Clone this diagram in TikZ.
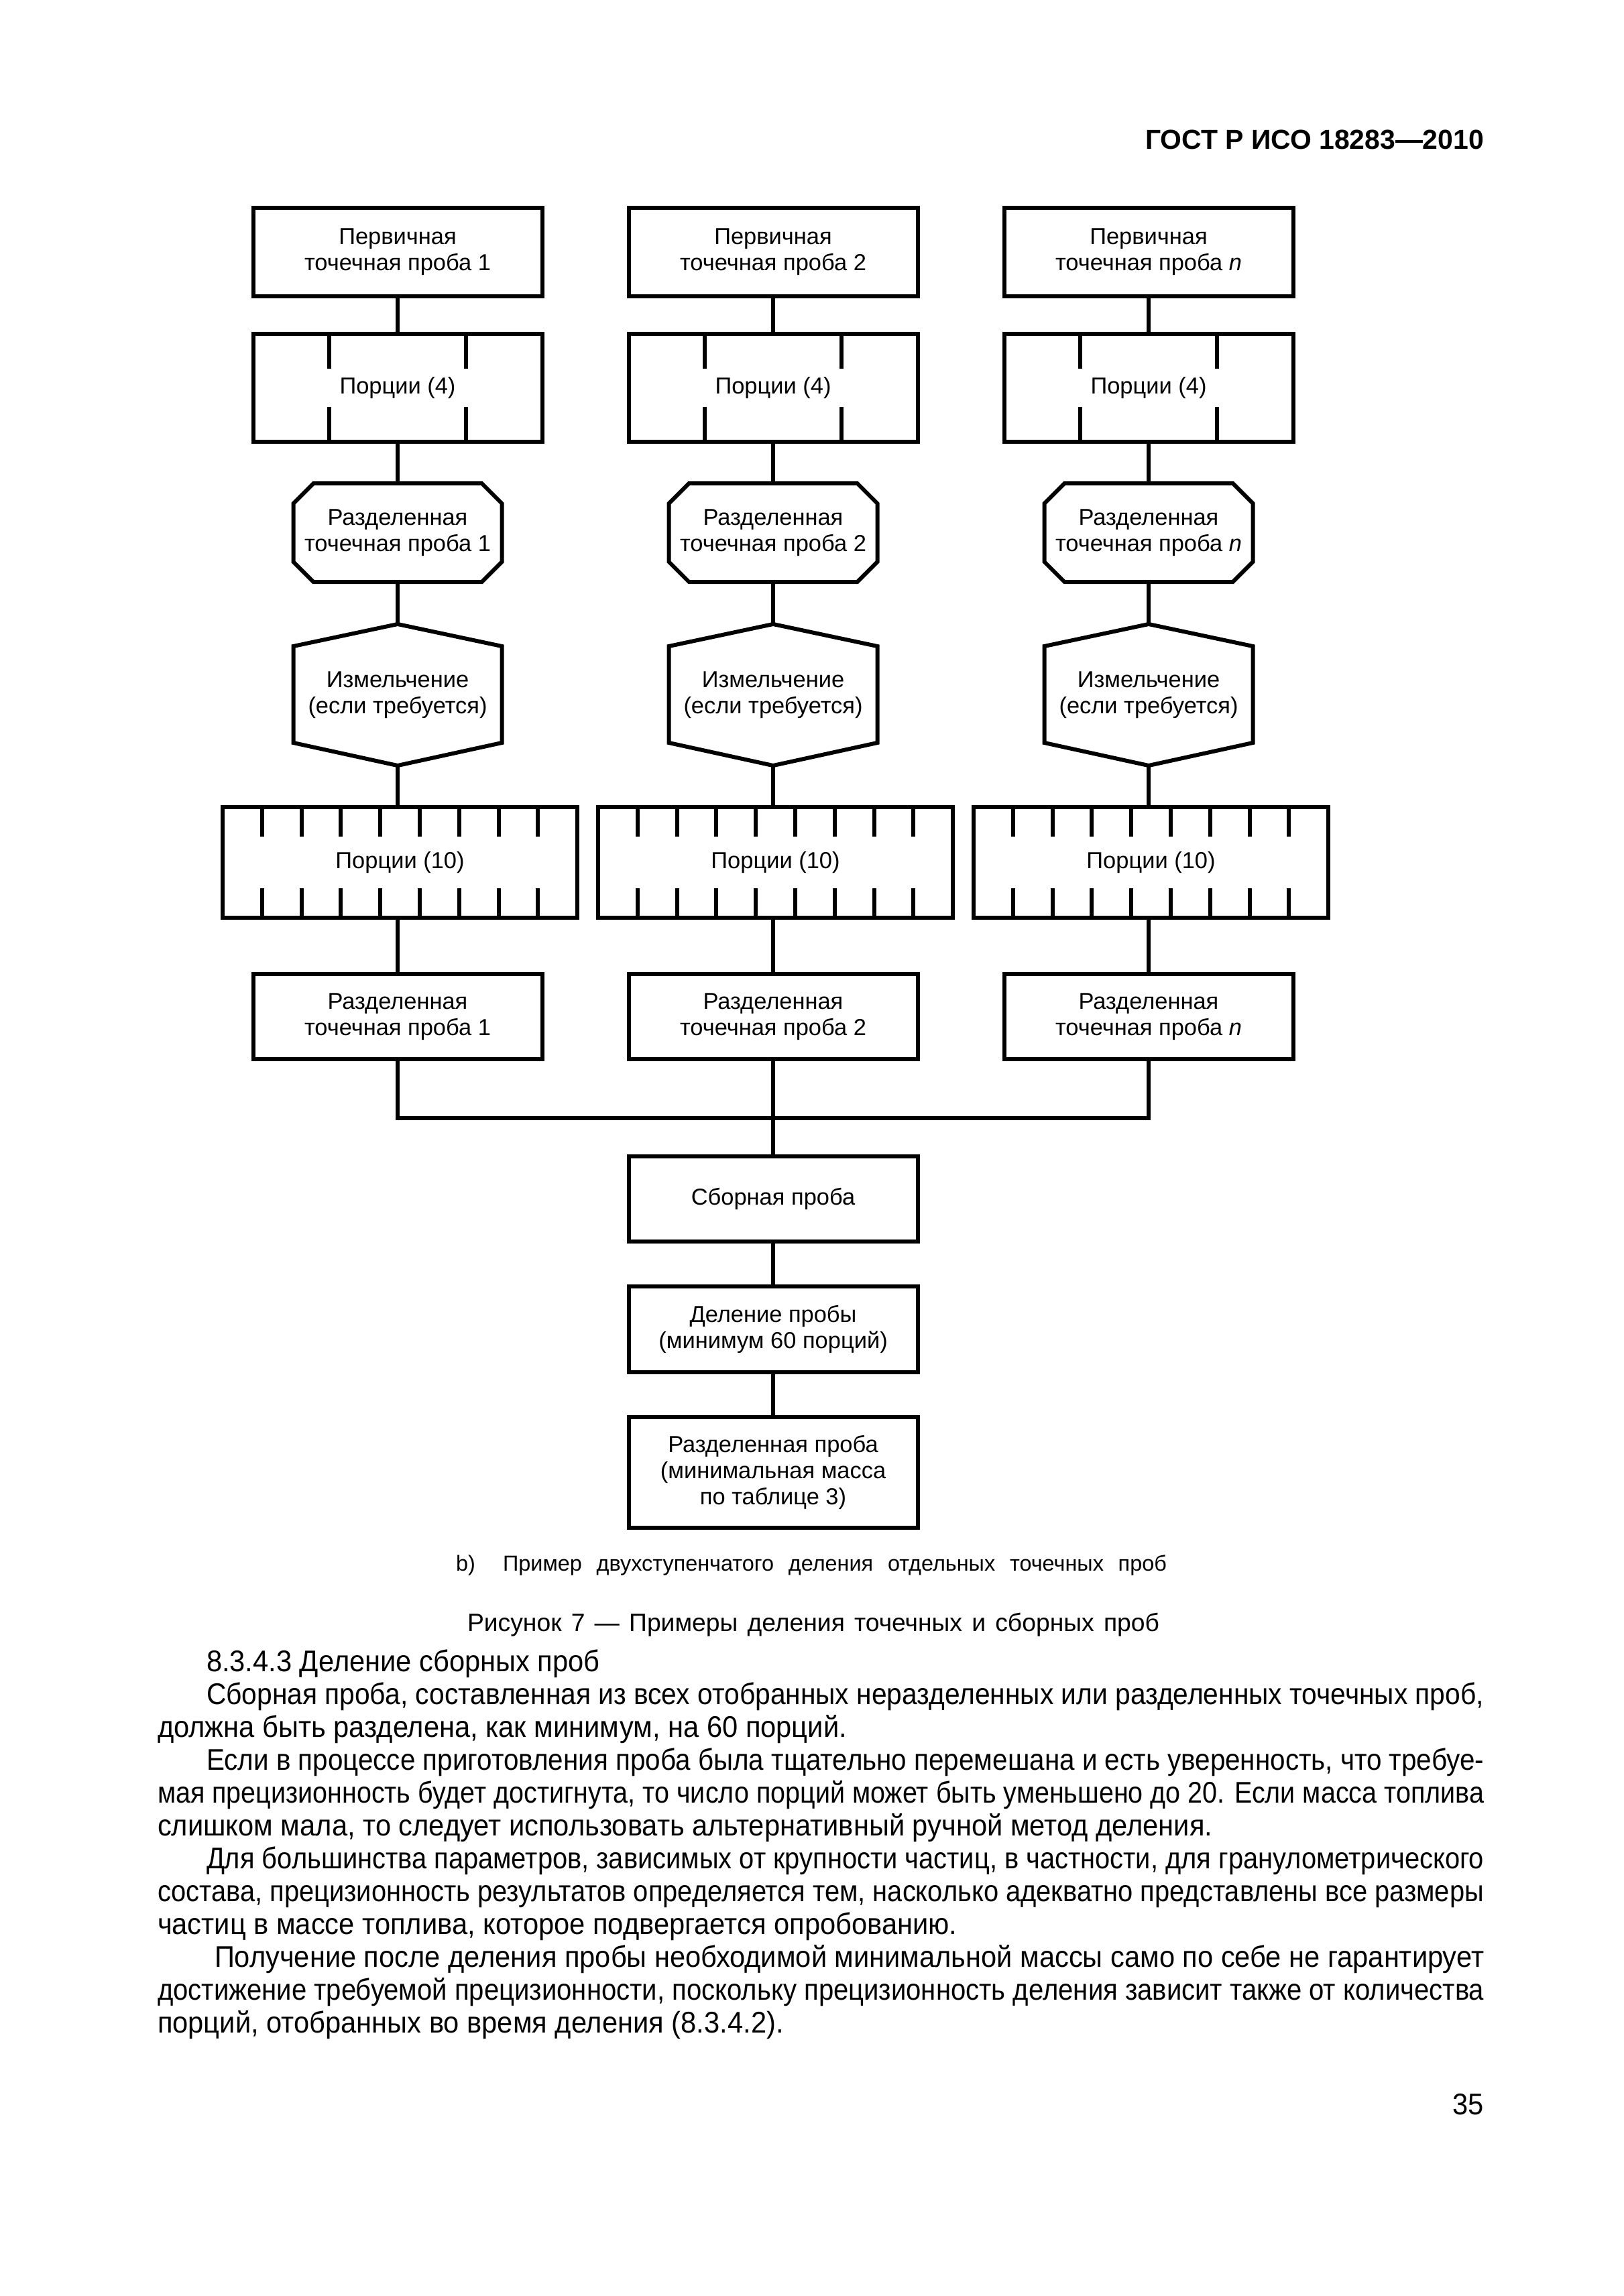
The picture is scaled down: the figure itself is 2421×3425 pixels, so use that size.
\documentclass[tikz,border=0pt]{standalone}
\usepackage{fontspec}
\usepackage{graphicx}
\setmainfont{Liberation Sans}
\newfontfamily\bodyfam[FakeStretch=0.935]{Liberation Sans}
\usetikzlibrary{calc}
\newdimen\px \px=0.086741mm
\newcommand\bxfont{\fontsize{8.5}{9.6}\selectfont}
\newcommand\bdfont{\bodyfam\fontsize{11}{13}\selectfont}
\newcommand\hdrfont{\fontsize{10.1}{12}\selectfont\bfseries}
\newcommand\jline[2]{\resizebox{#1\px}{\height}{#2}}
\begin{document}
\begin{tikzpicture}[x=0.086741mm,y=-0.086741mm,line width=6\px,
  box/.style={draw,rectangle,outer sep=0pt,inner sep=0pt,align=center,font=\bxfont,minimum width=431\px},
  shp/.style={rectangle,outer sep=0pt,inner sep=0pt,align=center,font=\bxfont},
  txt/.style={inner sep=0pt,outer sep=0pt,font=\bdfont}]
\fill[white] (0,0) rectangle (2421,3425);
\useasboundingbox (0,0) rectangle (2421,3425);

\node[txt,anchor=base east,font=\hdrfont] (hdr) at (2213,222) {ГОСТ Р ИСО 18283—2010};

\foreach \c/\x/\lab in {1/593/1,2/1153/2,3/1713/{\textit{n}}} {
  \node[box,minimum height=132\px] (p\c) at (\x,376) {Первичная\\точечная проба \lab};
  \node[box,minimum height=161\px] (q\c) at (\x,578.5) {Порции (4)};
  \foreach \d in {-102,102} {
    \draw ($(q\c.north)+(\d,0)$) -- ++(0,52);
    \draw ($(q\c.south)+(\d,0)$) -- ++(0,-52);
  }
  \node[shp,minimum width=311\px,minimum height=147\px] (r\c) at (\x,794.5) {Разделенная\\точечная проба \lab};
  \draw ($(r\c.north west)+(30,0)$) -- ($(r\c.north east)+(-30,0)$) -- ($(r\c.north east)+(0,30)$)
     -- ($(r\c.south east)+(0,-30)$) -- ($(r\c.south east)+(-30,0)$) -- ($(r\c.south west)+(30,0)$)
     -- ($(r\c.south west)+(0,-30)$) -- ($(r\c.north west)+(0,30)$) -- cycle;
  \node[shp,minimum width=311\px,minimum height=211\px] (h\c) at (\x,1036.5) {Измельчение\\(если требуется)};
  \draw (h\c.north) -- ($(h\c.north east)+(0,33)$) -- ($(h\c.south east)+(0,-34)$) -- (h\c.south)
     -- ($(h\c.south west)+(0,-34)$) -- ($(h\c.north west)+(0,33)$) -- cycle;
  \node[box,minimum width=529\px,minimum height=165\px] (t\c) at (\x+3.5,1286.5) {Порции (10)};
  \foreach \k in {-3.5,-2.5,...,3.5} {
    \draw ($(t\c.north)+(\k*58.8,0)$) -- ++(0,44);
    \draw ($(t\c.south)+(\k*58.8,0)$) -- ++(0,-44);
  }
  \node[box,minimum height=127\px] (s\c) at (\x,1516.5) {Разделенная\\точечная проба \lab};
  \draw (p\c) -- (q\c);
  \draw (q\c) -- (r\c);
  \draw (r\c) -- (h\c);
  \draw (h\c) -- (h\c |- t\c.north);
  \draw (s\c |- t\c.south) -- (s\c);
}

\node[box,minimum height=127\px] (sb) at (1153,1788.5) {Сборная проба};
\node[box,minimum height=128\px] (dl) at (1153,1983) {Деление пробы\\(минимум 60 порций)};
\node[box,minimum height=165\px] (rp) at (1153,2196.5) {Разделенная проба\\(минимальная масса\\по таблице 3)};
\coordinate (bus) at (1153,1668);
\draw (s1.south) |- (bus) -| (s3.south);
\draw (s2) -- (sb);
\draw (sb) -- (dl);
\draw (dl) -- (rp);

\node[txt,anchor=base,font=\fontsize{8}{10}\selectfont] (capb) at (1210,2343)
  {\makebox[1060\px][s]{b)\hspace{0.6em} Пример двухступенчатого деления отдельных точечных проб}};
\node[txt,anchor=base,font=\fontsize{9.2}{11}\selectfont] (fig) at (1213,2433)
  {\makebox[1032\px][s]{Рисунок 7 — Примеры деления точечных и сборных проб}};

\node[txt,anchor=base west] (l1) at (308,2493) {8.3.4.3 Деление сборных проб};
\node[txt,anchor=base west] (l2) at (308,2542) {\jline{1905}{Сборная проба, составленная из всех отобранных неразделенных или разделенных точечных проб,}};
\node[txt,anchor=base west] (l3) at (235,2591) {должна быть разделена, как минимум, на 60 порций.};
\node[txt,anchor=base west] (l4) at (308,2640) {\jline{1905}{Если в процессе приготовления проба была тщательно перемешана и есть уверенность, что требуе-}};
\node[txt,anchor=base west] (l5) at (235,2689) {\jline{1978}{мая прецизионность будет достигнута, то число порций может быть уменьшено до 20. Если масса топлива}};
\node[txt,anchor=base west] (l6) at (235,2738) {слишком мала, то следует использовать альтернативный ручной метод деления.};
\node[txt,anchor=base west] (l7) at (308,2787) {\jline{1905}{Для большинства параметров, зависимых от крупности частиц, в частности, для гранулометрического}};
\node[txt,anchor=base west] (l8) at (235,2836) {\jline{1978}{состава, прецизионность результатов определяется тем, насколько адекватно представлены все размеры}};
\node[txt,anchor=base west] (l9) at (235,2885) {частиц в массе топлива, которое подвергается опробованию.};
\node[txt,anchor=base west] (l10) at (320,2934) {\jline{1893}{Получение после деления пробы необходимой минимальной массы само по себе не гарантирует}};
\node[txt,anchor=base west] (l11) at (235,2983) {\jline{1978}{достижение требуемой прецизионности, поскольку прецизионность деления зависит также от количества}};
\node[txt,anchor=base west] (l12) at (235,3032) {порций, отобранных во время деления (8.3.4.2).};
\node[txt,anchor=base east] (pg) at (2213,3154) {35};
\end{tikzpicture}
\end{document}
